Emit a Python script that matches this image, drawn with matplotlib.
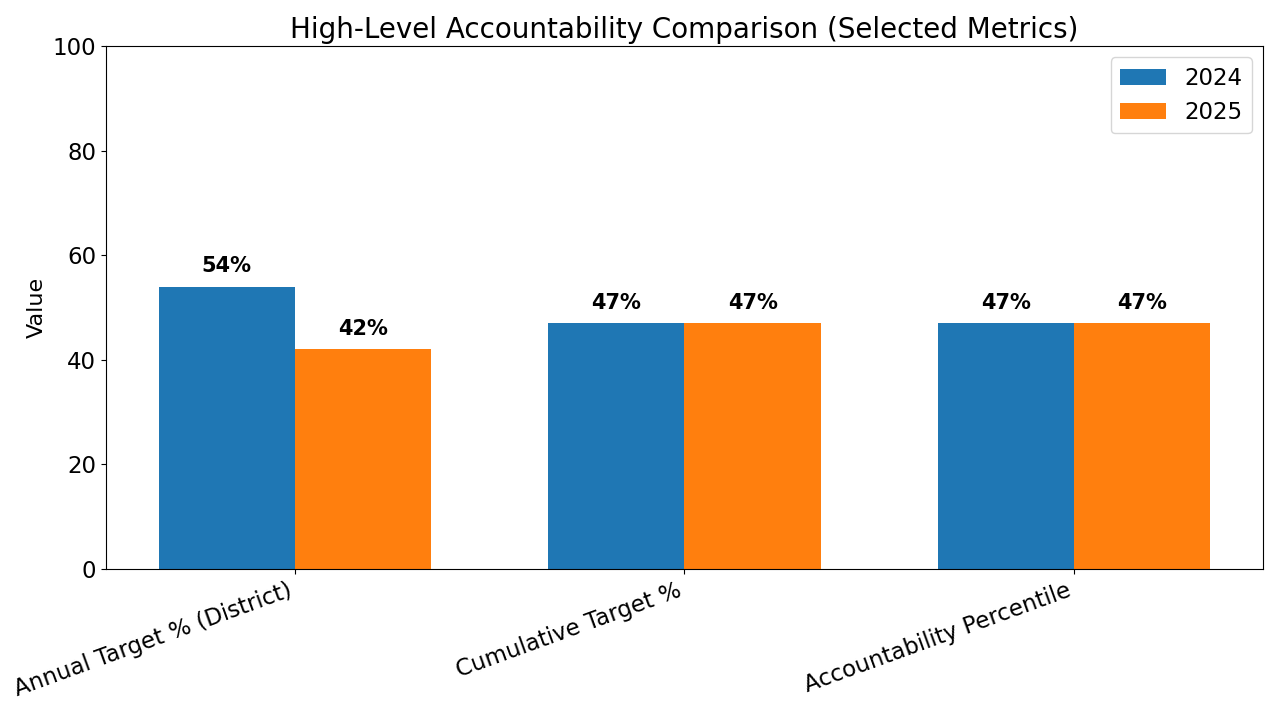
import numpy as np
import matplotlib.pyplot as plt

metrics = ["Annual Target % (District)", "Cumulative Target %", "Accountability Percentile"]
vals_2024 = [54, 47, 47]
vals_2025 = [42, 47, 47]

fig = plt.figure(figsize=(12.65, 7.02), dpi=100)
ax = fig.add_axes([0.0838, 0.1895, 0.9146, 0.745])

x = np.arange(len(metrics))
w = 0.35
b1 = ax.bar(x - w / 2, vals_2024, w, label="2024", color="#1f77b4")
b2 = ax.bar(x + w / 2, vals_2025, w, label="2025", color="#ff7f0e")

# value labels above each bar
for bars, vals in ((b1, vals_2024), (b2, vals_2025)):
    for rect, v in zip(bars, vals):
        ax.text(rect.get_x() + rect.get_width() / 2, v + 2, f"{v}%",
                ha="center", va="bottom", fontweight="bold", fontsize=15)

ax.set_ylim(0, 100)
ax.set_xticks(x)
ax.set_xticklabels(metrics, rotation=20, ha="right", fontsize=16.5)
ax.tick_params(axis="y", labelsize=16.5)
ax.set_ylabel("Value", fontsize=16)
ax.set_title("High-Level Accountability Comparison (Selected Metrics)", fontsize=20)
ax.legend(loc="upper right", fontsize=16.5)

fig.savefig("out.png", dpi=100)
